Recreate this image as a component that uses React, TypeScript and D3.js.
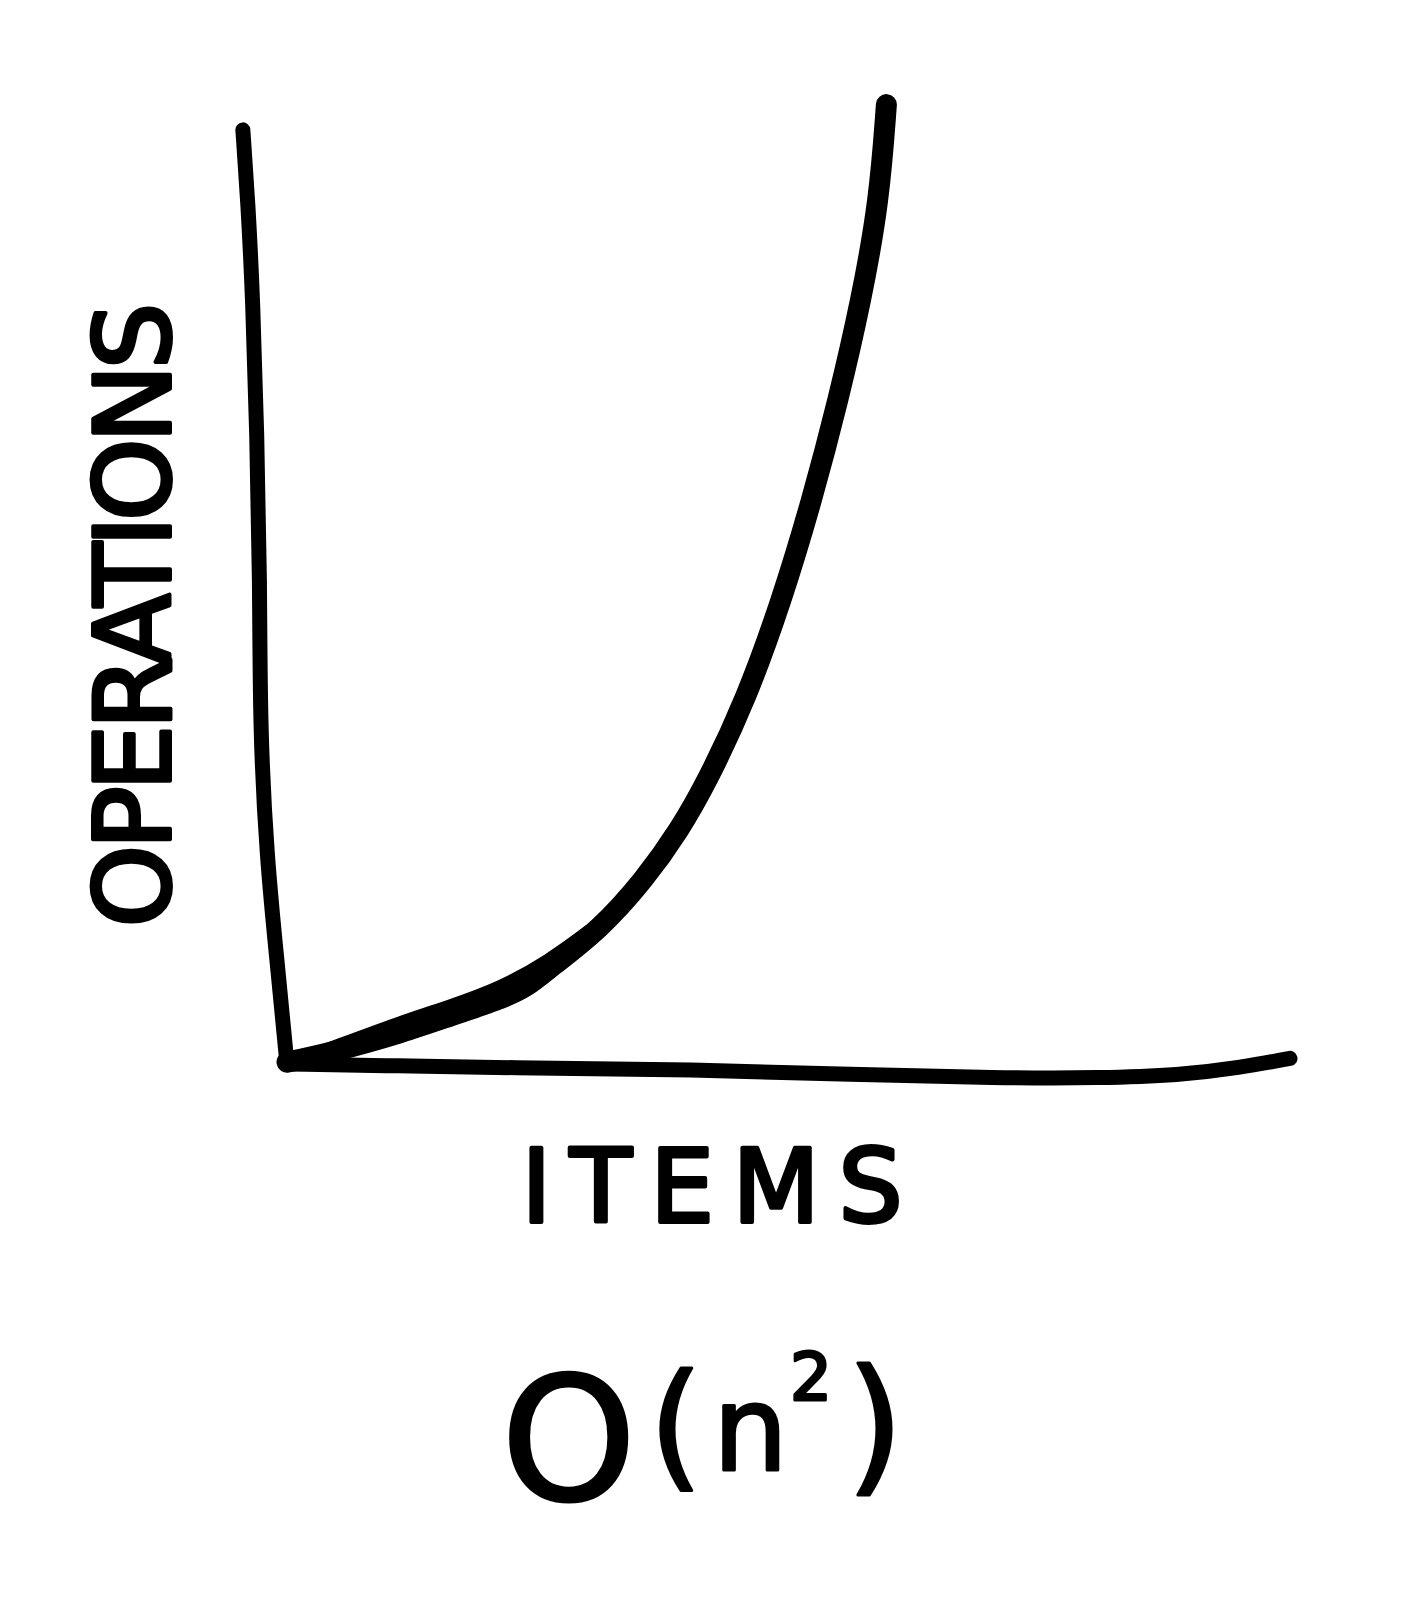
import React, { useRef, useEffect } from 'react';
import * as d3 from 'd3';

const WIDTH = 1418;
const HEIGHT = 1617;

// the O(n^2) pen stroke (items, operations)
const curveItems = [0.1, 2.4, 6.4, 11.4, 16.3, 21.3, 24.0, 26.3, 31.2, 35.7, 39.2, 42.0, 45.8, 49.4, 52.4, 55.0, 57.3, 59.1, 59.8];
const curveOps = [0.2, 0.7, 1.8, 3.3, 5.1, 6.9, 8.2, 10.3, 14.3, 19.7, 25.0, 30.3, 38.9, 49.6, 60.3, 70.9, 81.6, 92.3, 102.5];

// second pass of the pen over the lower part of the curve
const overdrawItems = [4.4, 11.4, 16.3, 21.3, 26.3, 30.3];
const overdrawOps = [1.5, 4.3, 6.0, 7.9, 10.9, 14.1];

// wobbly hand-drawn axes
const yAxisItems = [-4.3, -3.8, -3.3, -2.9, -2.6, -2.6, -1.9, -0.9, -0.1, 0.1];
const yAxisOps = [99.8, 92.3, 81.6, 67.4, 51.7, 36.0, 21.8, 11.1, 2.2, 0];
const xAxisItems = [0.1, 11.4, 21.3, 41.2, 56.2, 71.1, 81.1, 89.0, 95.0, 100];
const xAxisOps = [0, -0.2, -0.4, -0.6, -1.1, -1.5, -1.5, -1.2, -0.4, 0.6];

const xLabel = 'ITEMS';
const yLabel = 'OPERATIONS';

const zip = (xs, ys) => xs.map((x, i) => [x, ys[i]]);

const BigOSketch = () => {
  const svgRef = useRef(null);

  useEffect(() => {
    const svg = d3.select(svgRef.current);
    svg.selectAll('*').remove();

    const x = d3.scaleLinear().domain([0, 100]).range([286, 1290]);
    const y = d3.scaleLinear().domain([0, 100]).range([1064, 128]);

    const line = d3.line()
      .x(d => x(d[0]))
      .y(d => y(d[1]))
      .curve(d3.curveBasis);

    const pen = (pts, w) => svg.append('path')
      .attr('d', line(pts))
      .attr('fill', 'none')
      .attr('stroke', '#000')
      .attr('stroke-width', w)
      .attr('stroke-linecap', 'round')
      .attr('stroke-linejoin', 'round');

    // axes
    pen(zip(yAxisItems, yAxisOps), 15);
    pen(zip(xAxisItems, xAxisOps), 15);

    // the curve
    pen(zip(curveItems, curveOps), 21);
    pen(zip(overdrawItems, overdrawOps), 16);

    const font = "'DejaVu Sans', sans-serif";

    // y label, reads bottom to top
    svg.append('text')
      .attr('transform', 'translate(170,615) rotate(-90)')
      .attr('text-anchor', 'middle')
      .attr('font-family', font)
      .attr('font-size', 105)
      .attr('textLength', 625)
      .attr('lengthAdjust', 'spacing')
      .attr('stroke', '#000')
      .attr('stroke-width', 4)
      .attr('stroke-linejoin', 'round')
      .text(yLabel);

    // x label
    svg.append('text')
      .attr('x', 712)
      .attr('y', 1222)
      .attr('text-anchor', 'middle')
      .attr('font-family', font)
      .attr('font-size', 101)
      .attr('textLength', 381)
      .attr('lengthAdjust', 'spacing')
      .attr('stroke', '#000')
      .attr('stroke-width', 4)
      .attr('stroke-linejoin', 'round')
      .text(xLabel);

    // O(n²) caption, each glyph placed like the handwriting
    const cap = svg.append('text')
      .attr('font-family', font)
      .attr('stroke', '#000')
      .attr('stroke-width', 3)
      .attr('stroke-linejoin', 'round');
    cap.append('tspan').attr('x', 501).attr('y', 1500).attr('font-size', 172).text('O');
    cap.append('tspan').attr('x', 649).attr('y', 1472).attr('font-size', 138).text('(');
    cap.append('tspan').attr('x', 713).attr('y', 1470).attr('font-size', 118).text('n');
    cap.append('tspan').attr('x', 790).attr('y', 1400).attr('font-size', 66).text('2');
    cap.append('tspan').attr('x', 846).attr('y', 1476).attr('font-size', 148).text(')');
  }, []);

  return (
    <svg
      ref={svgRef}
      width={WIDTH}
      height={HEIGHT}
      viewBox={`0 0 ${WIDTH} ${HEIGHT}`}
      style={{ position: 'absolute', left: 0, top: 0, background: '#fff' }}
    />
  );
};

export default function App() {
  return <BigOSketch />;
}
